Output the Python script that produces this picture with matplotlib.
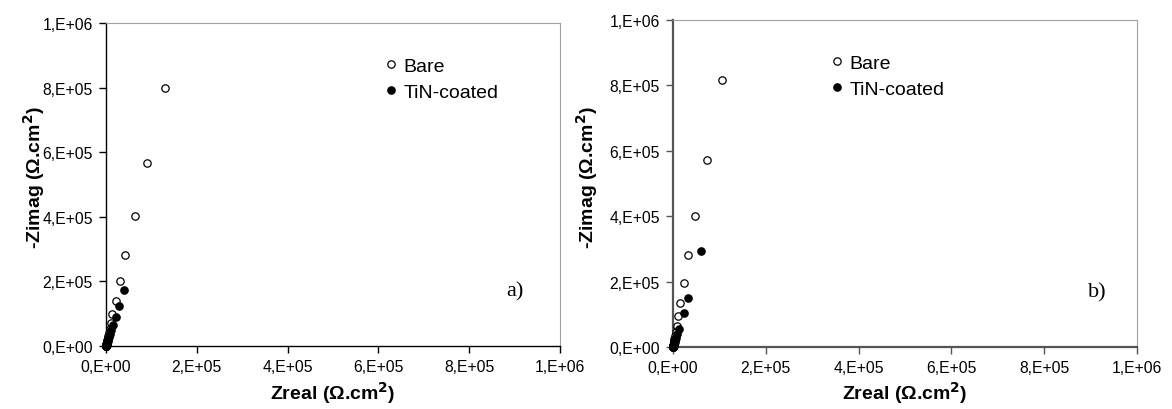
import matplotlib
matplotlib.use("Agg")
import matplotlib.pyplot as plt
from matplotlib.ticker import FuncFormatter, MultipleLocator

plt.rcParams['font.family'] = ['Liberation Sans', 'DejaVu Sans']

# Panel a) data (Zreal, -Zimag) in ohm.cm2
a_bare_x = [130000, 91000, 63000, 42500, 30800, 21300, 14000, 10000, 7800, 6000, 4700, 3700,
            2900, 2200, 1700, 1300, 1000, 800, 600, 500, 400, 300, 250, 200]
a_bare_y = [800000, 567000, 402000, 283000, 200000, 140000, 99000, 70000, 52000, 40000, 31000, 24000,
            18000, 13500, 10000, 7500, 5500, 4000, 2800, 2000, 1400, 900, 600, 400]
a_tin_x = [39700, 27900, 21300, 16000, 12000, 9000, 7000, 5500, 4200, 3300, 2600, 2000,
           1600, 1200, 900, 700, 500, 400, 300, 250]
a_tin_y = [174000, 124600, 90600, 66000, 50000, 38000, 29000, 22000, 16500, 12500, 9500, 7000,
           5200, 3800, 2700, 1900, 1300, 900, 600, 400]

# Panel b) data
b_bare_x = [105000, 73300, 48100, 33000, 23000, 15800, 11500, 7900, 5800, 4300, 3200, 2400,
            1800, 1300, 1000, 800, 600, 450, 350, 250]
b_bare_y = [815000, 572000, 401500, 281300, 195700, 134500, 94000, 65000, 46000, 33000, 24000, 17000,
            12000, 8500, 6000, 4200, 3000, 2000, 1400, 900]
b_tin_x = [59700, 31700, 23000, 12300, 9000, 6500, 4800, 3600, 2700, 2000, 1500, 1100,
           800, 600, 450, 350, 250]
b_tin_y = [294500, 149000, 104000, 55000, 40000, 29000, 21000, 15000, 11000, 8000, 5800, 4200,
           3000, 2100, 1500, 1000, 700]

series_labels = ['Bare', 'TiN-coated']
panel_tags = ['a)', 'b)']

W, H = 1172, 410
fig = plt.figure(figsize=(W / 100, H / 100), dpi=100)


def sci_fmt(v, pos):
    if v == 0:
        return '0,E+00'
    exp = int(f'{v:.0e}'.split('e')[1])
    mant = v / 10 ** exp
    return f'{mant:.0f},E+{exp:02d}'


def make_panel(rect, bx, by, tx, ty, tag, spine_col, lw, leg_xy, ylab_x, tag_x):
    l, t, r, b = rect
    ax = fig.add_axes([l / W, 1 - b / H, (r - l) / W, (b - t) / H])
    ax.plot(bx, by, 'o', ms=5.3, mfc='white', mec='black', mew=0.9, label=series_labels[0],
            clip_on=False, zorder=3)
    ax.plot(tx, ty, 'o', ms=5.3, mfc='black', mec='black', mew=0.9, label=series_labels[1],
            clip_on=False, zorder=4)
    ax.set_xlim(0, 1e6)
    ax.set_ylim(0, 1e6)
    ax.xaxis.set_major_locator(MultipleLocator(2e5))
    ax.yaxis.set_major_locator(MultipleLocator(2e5))
    ax.xaxis.set_major_formatter(FuncFormatter(sci_fmt))
    ax.yaxis.set_major_formatter(FuncFormatter(sci_fmt))
    ax.tick_params(direction='out', length=5, width=1, labelsize=11.3, colors=spine_col,
                   labelcolor='black', pad=4.5)
    for s in ['left', 'bottom']:
        ax.spines[s].set_color(spine_col)
        ax.spines[s].set_linewidth(lw)
    for s in ['top', 'right']:
        ax.spines[s].set_color('#a0a0a0')
        ax.spines[s].set_linewidth(0.8)
    ax.set_xlabel('Zreal (Ω.cm$^\\mathbf{2}$)', fontsize=14, fontweight='bold')
    ax.xaxis.set_label_coords(0.5, (b - 393) / (b - t), transform=ax.transAxes)
    ax.xaxis.label.set_va('center')
    ax.set_ylabel('-Zimag (Ω.cm$^\\mathbf{2}$)', fontsize=14, fontweight='bold', va='baseline')
    ax.yaxis.set_label_coords((ylab_x - l) / (r - l), (b - 178) / (b - t), transform=ax.transAxes)
    lx, ly = leg_xy
    ax.legend(loc='upper left', bbox_to_anchor=(lx / W, 1 - ly / H),
              bbox_transform=fig.transFigure, frameon=False, fontsize=14,
              handletextpad=0.25, labelspacing=0.46, handlelength=0.8,
              borderaxespad=0, borderpad=0)
    ax.text((tag_x - l) / (r - l), 0.17, tag, transform=ax.transAxes, fontsize=16,
            family=['Liberation Serif'], ha='center', va='center')
    return ax


make_panel((106, 24, 560, 347), a_bare_x, a_bare_y, a_tin_x, a_tin_y, panel_tags[0],
           'black', 1.0, (383, 58), 41, 515)
make_panel((673, 21, 1137, 348), b_bare_x, b_bare_y, b_tin_x, b_tin_y, panel_tags[1],
           '#555555', 1.6, (829, 55), 594, 1097)

fig.savefig('out.png', dpi=100, facecolor='white')
